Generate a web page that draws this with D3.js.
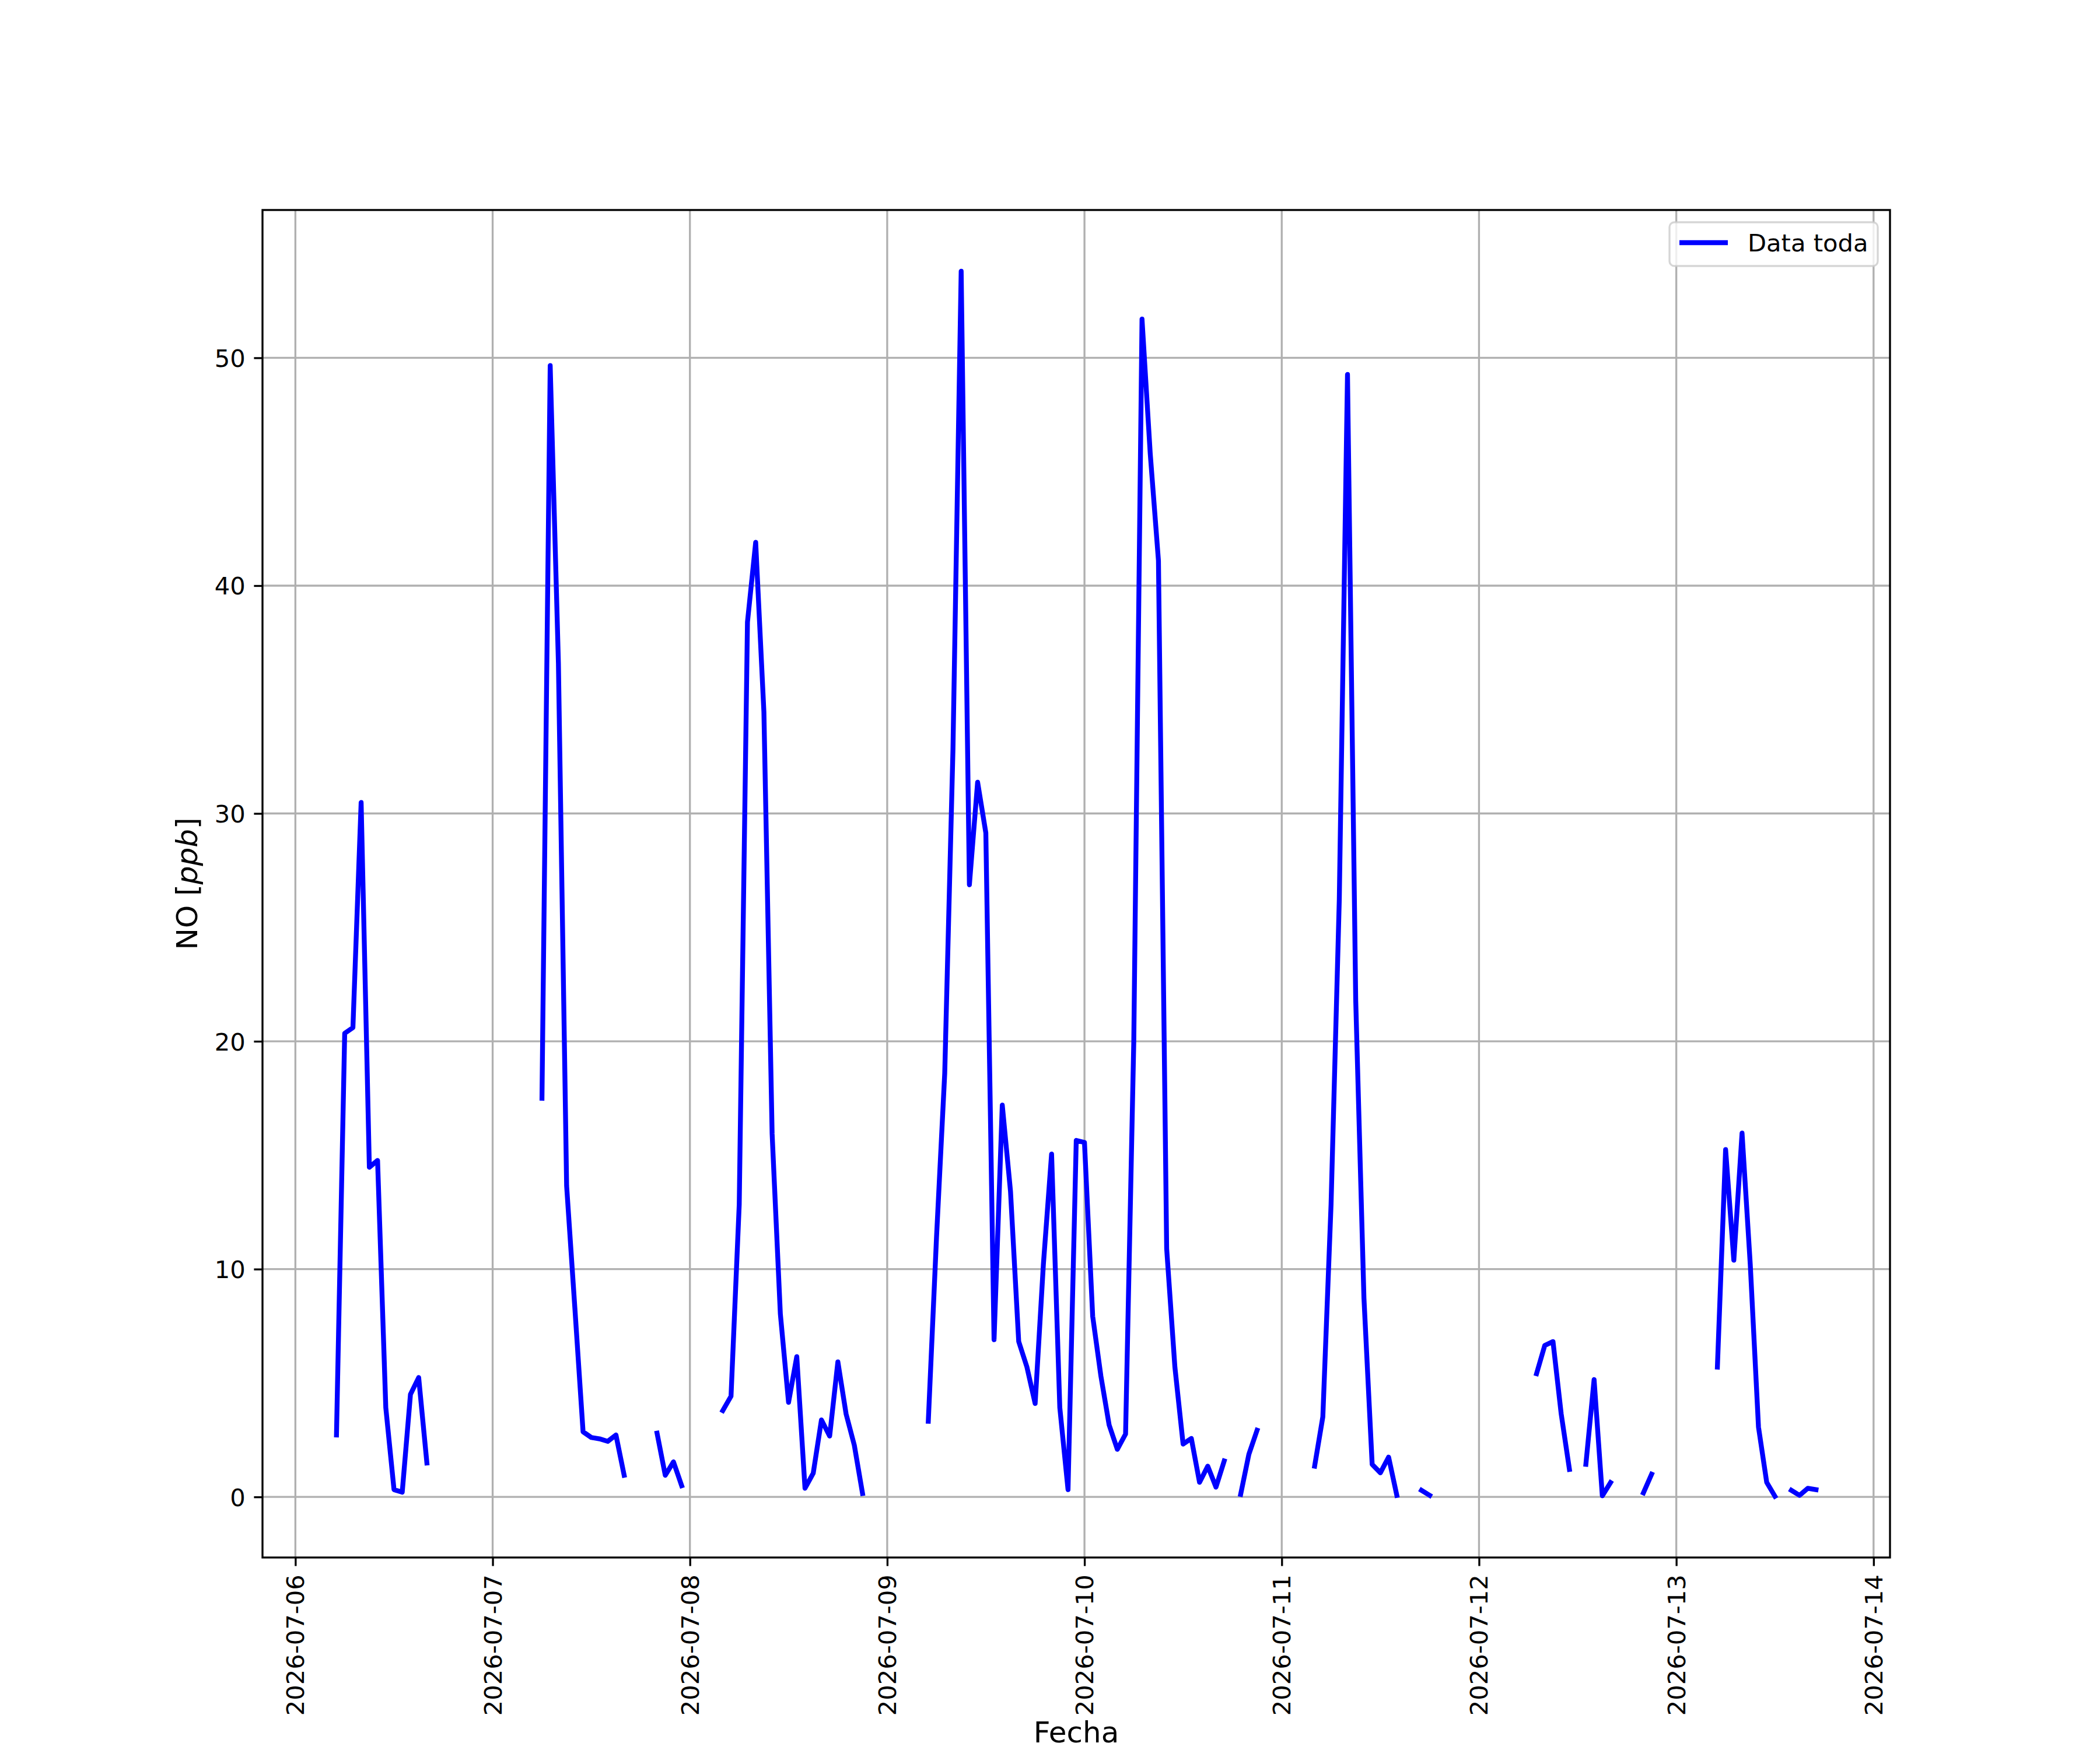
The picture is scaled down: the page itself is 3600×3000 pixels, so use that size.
<!DOCTYPE html>
<html>
<head>
<meta charset="utf-8">
<script src="https://cdn.jsdelivr.net/npm/d3@7"></script>
<style>
  html, body { margin: 0; padding: 0; background: #fff; }
</style>
</head>
<body>
<div id="chart"></div>
<script>
// hourly NO readings, one array per day (index = hour of day), null = no data
const n = null;
const days = ["2026-07-06", "2026-07-07", "2026-07-08", "2026-07-09",
              "2026-07-10", "2026-07-11", "2026-07-12", "2026-07-13"];
const no0706 = [n,n,n,n,n, 2.72,20.35,20.6,30.48,14.47,14.77,3.92,0.32,0.21,4.5,5.24,1.49, n,n,n,n,n,n,n];
const no0707 = [n,n,n,n,n,n, 17.5,49.66,36.6,13.65,8.3,2.86,2.61,2.55,2.44,2.72,0.95, n,n,n, 2.8,0.95,1.54,0.49];
const no0708 = [n,n,n,n, 3.79,4.42,12.85,38.4,41.9,34.46,15.94,8.04,4.15,6.16,0.38,1.04,3.38,2.67,5.93,3.64,2.27,0.15, n,n];
const no0709 = [n,n,n,n,n, 3.32,11.4,18.6,32.8,53.8,26.87,31.37,29.15,6.9,17.2,13.42,6.82,5.7,4.1,10.2,15.05,3.92,0.32,15.65];
const no0710 = [15.56,7.93,5.3,3.16,2.09,2.76,20.0,51.7,45.8,41.1,10.9,5.7,2.32,2.57,0.64,1.35,0.43,1.58, n, 0.11,1.87,2.93, n,n];
const no0711 = [n,n,n,n, 1.35,3.52,12.85,26.2,49.27,21.8,8.73,1.43,1.06,1.75,0.07, n,n, 0.29,0.07, n,n,n,n,n];
const no0712 = [n,n,n,n,n,n,n, 5.41,6.65,6.82,3.64,1.21, n, 1.43,5.15,0.05,0.63, n,n,n, 0.18,1.0, n,n];
const no0713 = [n,n,n,n,n, 5.7,15.25,10.39,15.97,10.2,3.07,0.64,0.03, n, 0.29,0.07,0.38,0.32];
const dayValues = [no0706, no0707, no0708, no0709, no0710, no0711, no0712, no0713];

const xTickDays = ["2026-07-06", "2026-07-07", "2026-07-08", "2026-07-09", "2026-07-10",
                   "2026-07-11", "2026-07-12", "2026-07-13", "2026-07-14"];
const yTicks = [0, 10, 20, 30, 40, 50];

function drawChart() {
  const width = 3600;
  const height = 3000;
  const left = 450, right = 3240, top = 360, bottom = 2670;
  const fontFamily = "'DejaVu Sans', sans-serif";
  const tickFont = 41.67;
  const labelFont = 50;
  const gridColor = "#b0b0b0";
  const lw = 3.33;
  const dataLw = 8.33;

  const parse = d3.utcParse("%Y-%m-%d");
  const series = days.flatMap((day, i) =>
    dayValues[i].map((v, h) => ({ t: d3.utcHour.offset(parse(day), h), v: v })));
  const defined = series.filter(d => d.v != null);

  // matplotlib style 5% margins
  const tExt = d3.extent(defined, d => d.t);
  const tPad = (tExt[1] - tExt[0]) * 0.05;
  const vExt = d3.extent(defined, d => d.v);
  const vPad = (vExt[1] - vExt[0]) * 0.05;

  const x = d3.scaleUtc()
    .domain([new Date(+tExt[0] - tPad), new Date(+tExt[1] + tPad)])
    .range([left, right]);
  const y = d3.scaleLinear()
    .domain([vExt[0] - vPad, vExt[1] + vPad])
    .range([bottom, top]);

  const svg = d3.select("#chart")
    .append("svg")
    .attr("width", width)
    .attr("height", height)
    .style("font-family", fontFamily);

  svg.append("rect").attr("width", width).attr("height", height).attr("fill", "#fff");

  const xTicks = xTickDays.map(parse);

  // Grid
  const grid = svg.append("g");
  grid.selectAll("line.vg")
    .data(xTicks)
    .join("line")
    .attr("x1", d => x(d)).attr("x2", d => x(d))
    .attr("y1", top).attr("y2", bottom)
    .attr("stroke", gridColor).attr("stroke-width", lw);
  grid.selectAll("line.hg")
    .data(yTicks)
    .join("line")
    .attr("x1", left).attr("x2", right)
    .attr("y1", d => y(d)).attr("y2", d => y(d))
    .attr("stroke", gridColor).attr("stroke-width", lw);

  // Line
  const line = d3.line()
    .defined(d => d.v != null)
    .x(d => x(d.t))
    .y(d => y(d.v));

  svg.append("path")
    .datum(series)
    .attr("d", line)
    .attr("fill", "none")
    .attr("stroke", "#0000ff")
    .attr("stroke-width", dataLw)
    .attr("stroke-linejoin", "round")
    .attr("stroke-linecap", "square");

  // Axes
  const xAxis = svg.append("g")
    .attr("transform", `translate(0,${bottom})`)
    .call(d3.axisBottom(x)
      .tickValues(xTicks)
      .tickFormat(d3.utcFormat("%Y-%m-%d"))
      .tickSize(14.6)
      .tickPadding(14.6));
  xAxis.select(".domain").remove();
  xAxis.selectAll(".tick line").attr("stroke", "#000").attr("stroke-width", lw);
  xAxis.selectAll(".tick text")
    .attr("font-size", tickFont)
    .attr("font-family", fontFamily)
    .attr("fill", "#000")
    .attr("y", 0).attr("dy", null)
    .attr("transform", "translate(0,29.2) rotate(-90)")
    .attr("text-anchor", "end")
    .attr("dominant-baseline", "central");

  const yAxis = svg.append("g")
    .attr("transform", `translate(${left},0)`)
    .call(d3.axisLeft(y)
      .tickValues(yTicks)
      .tickSize(14.6)
      .tickPadding(14.6));
  yAxis.select(".domain").remove();
  yAxis.selectAll(".tick line").attr("stroke", "#000").attr("stroke-width", lw);
  yAxis.selectAll(".tick text")
    .attr("font-size", tickFont)
    .attr("font-family", fontFamily)
    .attr("fill", "#000")
    .attr("dy", "0.36em");

  // Spines
  svg.append("rect")
    .attr("x", left).attr("y", top)
    .attr("width", right - left).attr("height", bottom - top)
    .attr("fill", "none")
    .attr("stroke", "#000")
    .attr("stroke-width", lw);

  // Axis labels
  svg.append("text")
    .attr("x", (left + right) / 2)
    .attr("y", 2987)
    .attr("text-anchor", "middle")
    .attr("font-size", labelFont)
    .attr("fill", "#000")
    .text("Fecha");

  const yl = svg.append("text")
    .attr("transform", `translate(338,${(top + bottom) / 2}) rotate(-90)`)
    .attr("text-anchor", "middle")
    .attr("font-size", labelFont)
    .attr("fill", "#000");
  yl.append("tspan").text("NO [");
  yl.append("tspan").attr("font-style", "italic").text("ppb");
  yl.append("tspan").text("]");

  // Legend
  const lg = svg.append("g");
  lg.append("rect")
    .attr("x", 2862).attr("y", 381)
    .attr("width", 357).attr("height", 75)
    .attr("rx", 8.3).attr("ry", 8.3)
    .attr("fill", "#fff").attr("fill-opacity", 0.8)
    .attr("stroke", "#cccccc").attr("stroke-opacity", 0.8)
    .attr("stroke-width", lw);
  lg.append("line")
    .attr("x1", 2879).attr("x2", 2962)
    .attr("y1", 416).attr("y2", 416)
    .attr("stroke", "#0000ff").attr("stroke-width", dataLw)
    .attr("stroke-linecap", "butt");
  lg.append("text")
    .attr("x", 2996).attr("y", 431)
    .attr("font-size", tickFont)
    .attr("fill", "#000")
    .text("Data toda");
}

drawChart();
</script>
</body>
</html>
